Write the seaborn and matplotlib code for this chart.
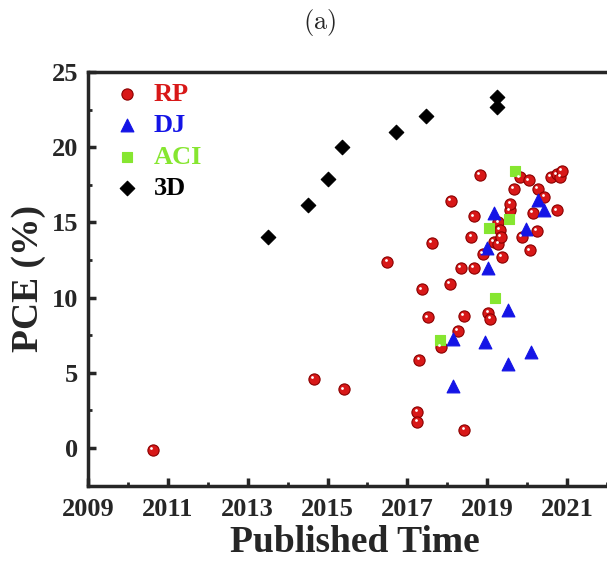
import matplotlib
matplotlib.use('Agg')
import matplotlib.pyplot as plt
import matplotlib.transforms as mtransforms
import seaborn as sns
import pandas as pd

# Published year (fractional) and PCE (%) for each perovskite type
rp_year = [2010.62, 2014.65, 2015.40, 2016.50, 2017.25, 2017.25, 2017.30, 2017.36,
           2017.51, 2017.61, 2017.84, 2018.07, 2018.09, 2018.26, 2018.34, 2018.41,
           2018.43, 2018.60, 2018.66, 2018.66, 2018.81, 2018.89, 2019.03, 2019.08,
           2019.16, 2019.28, 2019.28, 2019.31, 2019.34, 2019.37, 2019.56, 2019.58,
           2019.66, 2019.81, 2019.87, 2020.04, 2020.06, 2020.14, 2020.24, 2020.26,
           2020.43, 2020.60, 2020.74, 2020.75, 2020.83, 2020.87]
rp_pce = [-0.1, 4.6, 3.9, 12.4, 2.4, 1.75, 5.85, 10.55,
          8.7, 13.65, 6.75, 10.9, 16.45, 7.8, 12.0, 8.8,
          1.2, 14.05, 12.0, 15.4, 18.15, 12.9, 9.0, 8.6,
          13.7, 13.6, 15.0, 14.5, 14.05, 12.7, 15.8, 16.25,
          17.25, 18.0, 14.05, 17.8, 13.15, 15.65, 14.45, 17.25,
          16.7, 18.05, 15.8, 18.2, 18.05, 18.45]

dj_year = [2018.13, 2018.14, 2018.95, 2018.99, 2019.03, 2019.18, 2019.53, 2019.53,
           2019.98, 2020.10, 2020.26, 2020.41]
dj_pce = [4.15, 7.25, 7.05, 13.3, 12.0, 15.65, 9.15, 5.6,
          14.55, 6.4, 16.5, 15.8]

aci_year = [2017.82, 2019.05, 2019.20, 2019.55, 2019.70]
aci_pce = [7.2, 14.6, 10.0, 15.25, 18.45]

td_year = [2013.50, 2014.51, 2015.00, 2015.37, 2016.71, 2017.46, 2019.24, 2019.24]
td_pce = [14.05, 16.15, 17.9, 20.05, 21.0, 22.1, 22.65, 23.35]

x_ticks = [2009, 2011, 2013, 2015, 2017, 2019, 2021]
y_ticks = [0, 5, 10, 15, 20, 25]

sns.set_style('ticks')
plt.rcParams['font.family'] = ['Liberation Serif', 'DejaVu Serif']
plt.rcParams['font.weight'] = 'bold'
plt.rcParams['mathtext.fontset'] = 'cm'

groups = {
    'RP':  dict(x=rp_year, y=rp_pce, marker='o', color='#d81818', edge='#8a0000', s=65),
    'DJ':  dict(x=dj_year, y=dj_pce, marker='^', color='#1414e6', edge='#1414e6', s=85),
    'ACI': dict(x=aci_year, y=aci_pce, marker='s', color='#86e630', edge='#86e630', s=55),
    '3D':  dict(x=td_year, y=td_pce, marker='D', color='#000000', edge='#000000', s=55),
}

fig = plt.figure(figsize=(6.07, 5.72), dpi=100)
ax = fig.add_axes([0.145, 0.151, 0.88, 0.723])

for name, g in groups.items():
    df = pd.DataFrame({'year': g['x'], 'pce': g['y']})
    sns.scatterplot(data=df, x='year', y='pce', ax=ax, marker=g['marker'],
                    color=g['color'], edgecolor=g['edge'], linewidth=0.8,
                    s=g['s'], label=name, zorder=3)

# small specular highlight on the RP spheres
hl = mtransforms.offset_copy(ax.transData, fig=fig, x=-1.2, y=1.2, units='points')
ax.scatter(rp_year, rp_pce, s=4, color='white', transform=hl, zorder=4, linewidths=0)

ax.set_xlim(2009, 2022.38)
ax.set_ylim(-2.5, 25)
ax.set_xticks(x_ticks)
ax.set_xticks([2010, 2012, 2014, 2016, 2018, 2020, 2022], minor=True)
ax.set_yticks(y_ticks)
ax.set_yticks([2.5, 7.5, 12.5, 17.5, 22.5], minor=True)
ax.tick_params(which='major', direction='in', length=6, width=2.5, labelsize=19)
ax.tick_params(axis='x', which='major', pad=9)
ax.tick_params(axis='y', which='major', pad=7)
ax.tick_params(which='minor', direction='in', length=3, width=2.0)
for lab in ax.get_xticklabels() + ax.get_yticklabels():
    lab.set_fontweight('bold')

for side in ['left', 'bottom', 'top', 'right']:
    ax.spines[side].set_linewidth(2.5)

ax.set_xlabel('Published Time', fontsize=27, fontweight='bold', labelpad=3)
ax.set_ylabel('PCE (%)', fontsize=27, fontweight='bold', labelpad=4)

leg = ax.legend(loc='upper left', frameon=False, handlelength=1.0, handletextpad=0.5,
                labelspacing=0.3, borderaxespad=0.1, bbox_to_anchor=(0.024, 1.007),
                prop={'weight': 'bold', 'size': 19})
for text, g in zip(leg.get_texts(), groups.values()):
    text.set_color(g['color'])

fig.text(0.527, 0.961, r'$\mathrm{(a)}$', ha='center', va='center', fontsize=19)

fig.savefig('out.png', dpi=100, facecolor='white')
